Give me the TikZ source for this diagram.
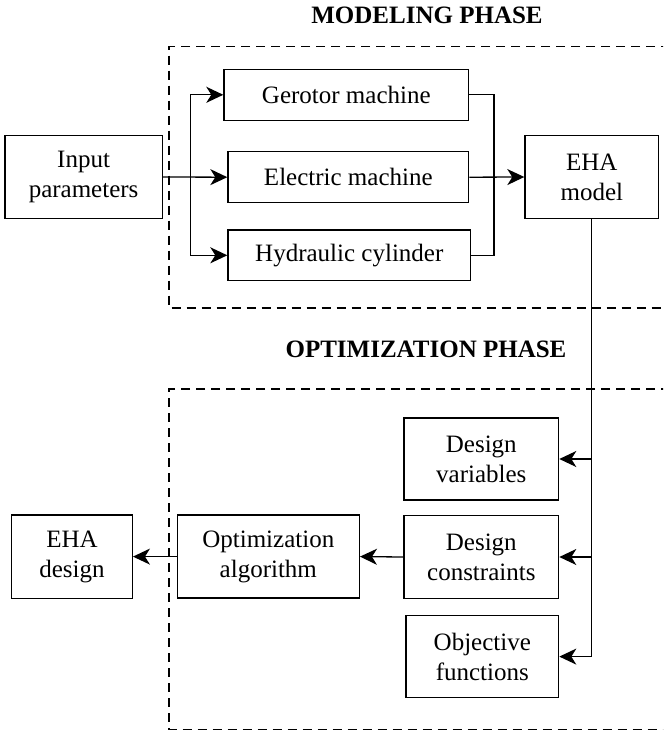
\documentclass[tikz,border=0pt]{standalone}
\usepackage{fontspec}
\setmainfont{Liberation Serif}
\usetikzlibrary{arrows.meta}
\begin{document}
\begin{tikzpicture}[x=1pt,y=-1pt,
  box/.style={draw, line width=1.3pt, inner sep=0pt, align=center,
    font=\rmfamily\fontsize{25}{30}\selectfont},
  arr/.style={line width=1.3pt, -{Stealth[length=17pt,width=16pt,inset=5pt]}},
  ln/.style={line width=1.3pt},
  phase/.style={line width=1.5pt, dash pattern=on 9pt off 6pt},
  title/.style={font=\rmfamily\fontsize{25}{30}\selectfont\bfseries, inner sep=0pt}]
\useasboundingbox (0,0) rectangle (663,735);
\begin{scope}
\clip (0,0) rectangle (663,735);
\draw[phase] (670,46.7) -- (169,46.7) -- (169,308) -- (670,308);
\draw[phase] (670,389) -- (169,389) -- (169,729.3) -- (670,729.3);
\end{scope}
\node[title] (t1) at (427,15) {MODELING PHASE};
\node[title] (t2) at (426,349) {OPTIMIZATION PHASE};
% modeling
\node[box, minimum width=157.3pt, minimum height=82.6pt] (inp) at (83.6,177) {Input\\parameters};
\node[box, minimum width=244.7pt, minimum height=51pt] (ger) at (346.3,94.8) {Gerotor machine};
\node[box, minimum width=240.7pt, minimum height=51pt] (ele) at (348.3,177.2) {Electric machine};
\node[box, minimum width=242.7pt, minimum height=50.7pt] (hyd) at (349.3,255.3) {Hydraulic cylinder};
\node[box, minimum width=133.7pt, minimum height=82.6pt] (eha) at (591.8,177) {EHA\\model};
% optimization
\node[box, minimum width=154.7pt, minimum height=82pt] (dv) at (481.3,459) {Design\\variables};
\node[box, minimum width=154.7pt, minimum height=82.6pt] (dc) at (481.3,557) {Design\\constraints};
\node[box, minimum width=152.7pt, minimum height=81.8pt] (of) at (482.3,656.6) {Objective\\functions};
\node[box, minimum width=182pt, minimum height=83pt] (oa) at (268.3,556.6) {Optimization\\algorithm};
\node[box, minimum width=120.6pt, minimum height=83.3pt] (ed) at (72,556.6) {EHA\\design};
% coordinates
\coordinate (bx) at (190.7,0);
\coordinate (cx) at (494,0);
\coordinate (ex) at (591.8,0);
% connectors
\draw[arr] (inp.east) -- (ele.west);
\draw[arr] (bx|-ele.west) |- (ger.west);
\draw[arr] (bx|-ele.west) |- (hyd.west);
\draw[ln] (ger.east) -| (cx|-ele.east) |- (hyd.east);
\draw[arr] (ele.east) -- (eha.west);
\draw[arr] (eha.south) |- (of.east);
\draw[arr] (ex|-dv.east) -- (dv.east);
\draw[arr] (ex|-dc.east) -- (dc.east);
\draw[arr] (dc.west) -- (oa.east);
\draw[arr] (oa.west) -- (ed.east);
\end{tikzpicture}
\end{document}
